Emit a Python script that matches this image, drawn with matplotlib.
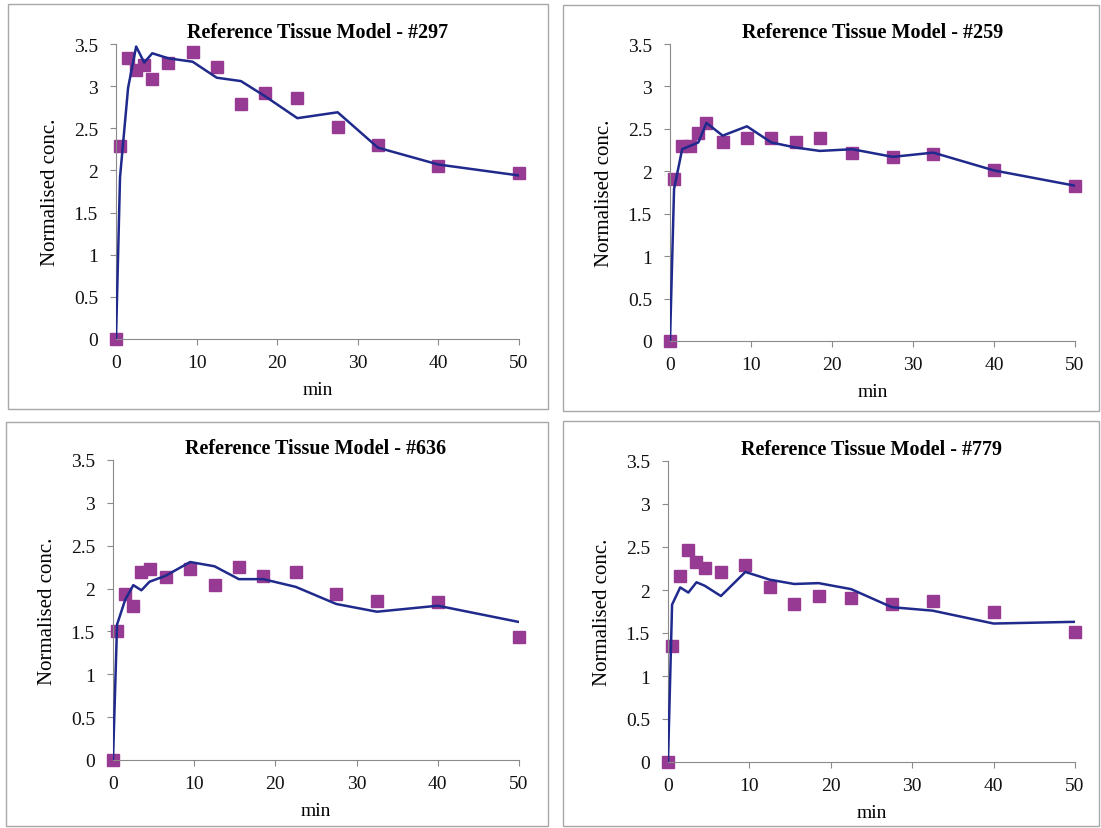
import matplotlib
matplotlib.use("Agg")
import matplotlib.pyplot as plt
from matplotlib.patches import Rectangle

plt.rcParams['font.family'] = ['Liberation Serif', 'DejaVu Serif']

# Frame mid-times (min)
times = [0, 0.5, 1.5, 2.5, 3.5, 4.5, 6.5, 9.5, 12.5, 15.5, 18.5, 22.5, 27.5, 32.5, 40, 50]

titles = ["Reference Tissue Model - #297", "Reference Tissue Model - #259",
          "Reference Tissue Model - #636", "Reference Tissue Model - #779"]

# measured (squares)
meas_297 = [0, 2.29, 3.33, 3.19, 3.25, 3.08, 3.27, 3.40, 3.23, 2.79, 2.92, 2.86, 2.51, 2.30, 2.05, 1.97]
meas_259 = [0, 1.91, 2.30, 2.30, 2.45, 2.57, 2.35, 2.39, 2.39, 2.35, 2.39, 2.22, 2.17, 2.20, 2.02, 1.83]
meas_636 = [0, 1.50, 1.94, 1.80, 2.19, 2.23, 2.13, 2.23, 2.04, 2.25, 2.15, 2.19, 1.94, 1.86, 1.84, 1.44]
meas_779 = [0, 1.35, 2.16, 2.46, 2.32, 2.26, 2.21, 2.29, 2.03, 1.84, 1.93, 1.91, 1.84, 1.87, 1.75, 1.51]

# model fit (line)
fit_297 = [0, 1.92, 2.98, 3.47, 3.28, 3.39, 3.33, 3.29, 3.10, 3.06, 2.88, 2.62, 2.69, 2.27, 2.07, 1.94]
fit_259 = [0, 1.79, 2.26, 2.30, 2.34, 2.57, 2.42, 2.53, 2.34, 2.28, 2.24, 2.26, 2.17, 2.22, 2.01, 1.83]
fit_636 = [0, 1.58, 1.87, 2.04, 1.98, 2.08, 2.15, 2.31, 2.26, 2.11, 2.11, 2.02, 1.82, 1.73, 1.80, 1.61]
fit_779 = [0, 1.83, 2.03, 1.97, 2.09, 2.05, 1.93, 2.21, 2.12, 2.07, 2.08, 2.01, 1.80, 1.76, 1.61, 1.63]

measured = [meas_297, meas_259, meas_636, meas_779]
fitted = [fit_297, fit_259, fit_636, fit_779]

yticks = [0, 0.5, 1, 1.5, 2, 2.5, 3, 3.5]
ytick_labels = ["0", "0.5", "1", "1.5", "2", "2.5", "3", "3.5"]
xticks = [0, 10, 20, 30, 40, 50]

W, H = 1101, 829
fig = plt.figure(figsize=(W / 100, H / 100), dpi=100)

# axes rectangles in pixels: left, top, right, bottom
ax_px = [(116, 45, 519, 340), (670, 45, 1075, 342),
         (113, 461, 519, 761), (668, 462, 1075, 763)]
# panel border boxes in pixels
box_px = [(8, 5, 548, 410), (563, 6, 1099, 412),
          (6, 423, 548, 827), (563, 422, 1099, 827)]

line_col = '#1f2a8c'
mark_col = '#973a93'
spine_col = '#8a8a8a'

for (bl, bt, br, bb) in box_px:
    fig.patches.append(Rectangle((bl / W, 1 - bb / H), (br - bl) / W, (bb - bt) / H,
                                 transform=fig.transFigure, fill=False,
                                 edgecolor='#a8a8a8', linewidth=1.0))

for i, (l, t, r, b) in enumerate(ax_px):
    ax = fig.add_axes([l / W, 1 - b / H, (r - l) / W, (b - t) / H])
    ax.plot(times, fitted[i], color=line_col, linewidth=1.8, zorder=3)
    ax.plot(times, measured[i], linestyle='none', marker='s', markersize=9,
            color=mark_col, markeredgecolor=mark_col, zorder=2, clip_on=False)
    ax.set_xlim(0, 50)
    ax.set_ylim(0, 3.5)
    ax.set_xticks(xticks)
    ax.set_xticklabels([str(v) for v in xticks])
    ax.set_yticks(yticks)
    ax.set_yticklabels(ytick_labels)
    for s in ['top', 'right']:
        ax.spines[s].set_visible(False)
    for s in ['left', 'bottom']:
        ax.spines[s].set_color(spine_col)
        ax.spines[s].set_linewidth(0.8)
    ax.tick_params(axis='both', direction='out', length=4, width=0.8,
                   color=spine_col, labelsize=14, labelcolor='#111111')
    ax.tick_params(axis='x', pad=7)
    ax.tick_params(axis='y', pad=9)
    ax.set_title(titles[i], fontsize=14.5, fontweight='bold', pad=5)
    ax.set_ylabel("Normalised conc.", fontsize=15, labelpad=10)
    ax.set_xlabel("min", fontsize=14, labelpad=7)

fig.savefig("out.png", dpi=100, facecolor='white')
